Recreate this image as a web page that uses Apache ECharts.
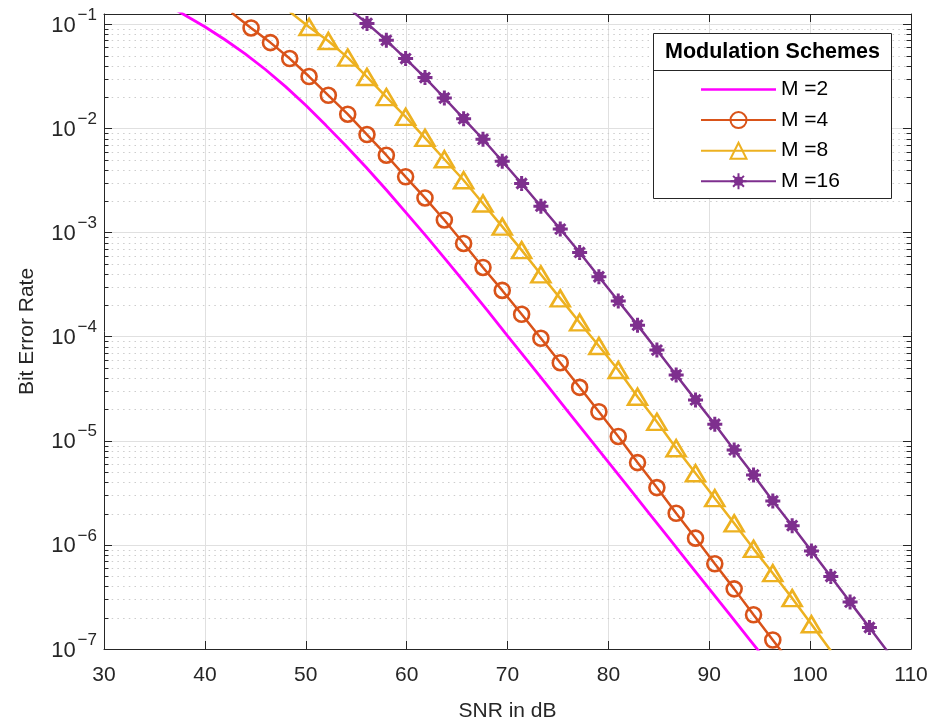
<!DOCTYPE html>
<html><head><meta charset="utf-8">
<script src="https://cdn.jsdelivr.net/npm/echarts@6/dist/echarts.min.js"></script>
<style>html,body{margin:0;padding:0;background:#fff}#c{width:933px;height:724px}</style>
</head><body><div id="c"></div>
<script>
// ---- data ----
const xTicks = [30, 40, 50, 60, 70, 80, 90, 100, 110];
const yDecades = [-7, -6, -5, -4, -3, -2, -1];
const seriesNames = ['M =2', 'M =4', 'M =8', 'M =16'];

const snrM2 = [36, 38, 40, 42, 44, 46, 48, 50, 52, 54, 56, 58, 60, 62, 64, 66, 68, 70, 72, 74, 76, 78, 80, 82, 84, 86, 88, 90, 92, 94, 96];
const berM2 = [1.58e-1, 1.23e-1, 9.48e-2, 7.11e-2, 5.20e-2, 3.68e-2, 2.52e-2, 1.67e-2, 1.07e-2, 6.79e-3, 4.21e-3, 2.56e-3, 1.53e-3, 9.08e-4, 5.32e-4, 3.09e-4, 1.79e-4, 1.02e-4, 5.85e-5, 3.34e-5, 1.91e-5, 1.09e-5, 6.22e-6, 3.56e-6, 2.03e-6, 1.16e-6, 6.62e-7, 3.78e-7, 2.16e-7, 1.23e-7, 7.05e-8];

const snrM4 = [42.66, 44.58, 46.50, 48.41, 50.33, 52.24, 54.16, 56.07, 57.99, 59.90, 61.82, 63.74, 65.65, 67.57, 69.48, 71.40, 73.31, 75.23, 77.15, 79.06, 80.98, 82.89, 84.81, 86.72, 88.64, 90.55, 92.47, 94.39, 96.30, 98.22];
const berM4 = [1.29e-1, 9.23e-2, 6.67e-2, 4.69e-2, 3.15e-2, 2.08e-2, 1.37e-2, 8.73e-3, 5.53e-3, 3.43e-3, 2.15e-3, 1.32e-3, 7.85e-4, 4.62e-4, 2.78e-4, 1.64e-4, 9.64e-5, 5.62e-5, 3.26e-5, 1.90e-5, 1.10e-5, 6.17e-6, 3.55e-6, 2.01e-6, 1.16e-6, 6.58e-7, 3.78e-7, 2.13e-7, 1.22e-7, 6.97e-8];

const snrM8 = [48.41, 50.33, 52.24, 54.16, 56.07, 57.99, 59.90, 61.82, 63.74, 65.65, 67.57, 69.48, 71.40, 73.31, 75.23, 77.15, 79.06, 80.98, 82.89, 84.81, 86.72, 88.64, 90.55, 92.47, 94.39, 96.30, 98.22, 100.13, 102.05];
const berM8 = [1.32e-1, 9.42e-2, 6.92e-2, 4.79e-2, 3.12e-2, 2.00e-2, 1.29e-2, 8.11e-3, 5.06e-3, 3.18e-3, 1.90e-3, 1.14e-3, 6.78e-4, 3.96e-4, 2.33e-4, 1.37e-4, 8.13e-5, 4.79e-5, 2.65e-5, 1.52e-5, 8.47e-6, 4.88e-6, 2.81e-6, 1.61e-6, 9.16e-7, 5.35e-7, 3.08e-7, 1.73e-7, 9.6e-8];

const snrM16 = [54.16, 56.07, 57.99, 59.90, 61.82, 63.74, 65.65, 67.57, 69.48, 71.40, 73.31, 75.23, 77.15, 79.06, 80.98, 82.89, 84.81, 86.72, 88.64, 90.55, 92.47, 94.39, 96.30, 98.22, 100.13, 102.05, 103.96, 105.88, 107.80];
const berM16 = [1.45e-1, 1.02e-1, 7.02e-2, 4.69e-2, 3.08e-2, 1.96e-2, 1.24e-2, 7.87e-3, 4.84e-3, 2.96e-3, 1.79e-3, 1.08e-3, 6.44e-4, 3.76e-4, 2.20e-4, 1.29e-4, 7.43e-5, 4.28e-5, 2.47e-5, 1.44e-5, 8.17e-6, 4.70e-6, 2.64e-6, 1.53e-6, 8.75e-7, 4.97e-7, 2.82e-7, 1.61e-7, 9.12e-8];

const minorMultipliers = [2, 3, 4, 5, 6, 7, 8, 9];

// ---- styling ----
const FONT = 'Liberation Sans, Arial, Helvetica, sans-serif';
const AX = '#262626';
const GRID = '#e0e0e0';
const C2 = '#FF00FF', C4 = '#D95319', C8 = '#EDB120', C16 = '#7E2F8E';
const X_MIN = 30, X_MAX = 110, Y_MIN = 1e-7, Y_MAX = 0.1256;

const pairs = (xs, ys) => xs.map((x, i) => [x, ys[i]]);

const minorVals = [];
yDecades.forEach(e => minorMultipliers.forEach(k => {
  const v = k * Math.pow(10, e);
  if (v > Y_MIN && v < Y_MAX) minorVals.push(v);
}));

function yLabel(v) {
  const e = Math.log10(v);
  const n = Math.round(e);
  if (Math.abs(e - n) > 1e-6 || yDecades.indexOf(n) < 0) return '';
  return '{b|10}{s|' + (n < 0 ? '\u2212' : '') + Math.abs(n) + '}';
}

const STAR = 'path://M5,0L5,10M0,5L10,5M1.6,1.6L8.4,8.4M8.4,1.6L1.6,8.4M7.3,5A2.3,2.3 0 1,1 2.7,5A2.3,2.3 0 1,1 7.3,5Z';

const chart = echarts.init(document.getElementById('c'), null, {renderer: 'canvas'});
const option = {
  animation: false,
  backgroundColor: '#fff',
  grid: {left: 104, right: 22, top: 14, bottom: 75, containLabel: false, outerBoundsMode: 'none'},
  xAxis: [{
    type: 'value', min: X_MIN, max: X_MAX, interval: 10, position: 'bottom',
    axisLine: {show: true, onZero: false, lineStyle: {color: AX, width: 1}},
    axisTick: {show: true, inside: true, length: 8, lineStyle: {color: AX, width: 1}},
    axisLabel: {show: true, fontSize: 21, color: AX, fontFamily: FONT, margin: 16,
      formatter: v => (xTicks.indexOf(v) >= 0 ? String(v) : '')},
    splitLine: {show: true, lineStyle: {color: GRID, width: 1}},
    name: 'SNR in dB', nameLocation: 'middle', nameGap: 52,
    nameTextStyle: {fontSize: 21, color: AX, fontFamily: FONT}
  }, {
    type: 'value', min: X_MIN, max: X_MAX, interval: 10, position: 'top',
    axisLine: {show: true, onZero: false, lineStyle: {color: AX, width: 1}},
    axisTick: {show: true, inside: true, length: 8, lineStyle: {color: AX, width: 1}},
    axisLabel: {show: false}, splitLine: {show: false}
  }],
  yAxis: [{
    type: 'log', logBase: 10, min: Y_MIN, max: Y_MAX, position: 'left',
    axisLine: {show: true, onZero: false, lineStyle: {color: AX, width: 1}},
    axisTick: {show: true, inside: true, length: 8, lineStyle: {color: AX, width: 1}},
    axisLabel: {show: true, margin: 7, color: AX, formatter: yLabel, padding: [0, 0, 5, 0],
      rich: {
        b: {fontSize: 22, fontFamily: FONT, color: AX, lineHeight: 30, verticalAlign: 'bottom'},
        s: {fontSize: 17, fontFamily: FONT, color: AX, lineHeight: 17, verticalAlign: 'top', padding: [0, 0, 0, 2]}
      }},
    splitLine: {show: true, lineStyle: {color: GRID, width: 1}},
    name: 'Bit Error Rate', nameLocation: 'middle', nameGap: 66, nameRotate: 90,
    nameTextStyle: {fontSize: 21, color: AX, fontFamily: FONT}
  }, {
    type: 'log', logBase: 10, min: Y_MIN, max: Y_MAX, position: 'right',
    axisLine: {show: true, onZero: false, lineStyle: {color: AX, width: 1}},
    axisTick: {show: true, inside: true, length: 8, lineStyle: {color: AX, width: 1}},
    axisLabel: {show: false}, splitLine: {show: false}
  }],
  legend: {
    data: [
      {name: 'M =2', icon: 'path://M0,0H100V3.6H0Z'},
      {name: 'M =4'}, {name: 'M =8'}, {name: 'M =16'}
    ],
    orient: 'vertical', left: 700, top: 79, padding: 0,
    itemWidth: 75, itemHeight: 20, itemGap: 9.6, selectedMode: false,
    textStyle: {fontSize: 21, color: '#000', fontFamily: FONT, lineHeight: 20, padding: [0, 0, 0, 0]}
  },
  graphic: [
    {type: 'rect', z: 3, shape: {x: 653.5, y: 33.5, width: 238, height: 165},
      style: {fill: '#fff', stroke: AX, lineWidth: 1}},
    {type: 'line', z: 3, shape: {x1: 653.5, y1: 70.5, x2: 891.5, y2: 70.5},
      style: {stroke: AX, lineWidth: 1}},
    {type: 'text', z: 3, x: 772.5, y: 52.5,
      style: {text: 'Modulation Schemes', font: 'bold 21.5px ' + FONT, fill: '#000', align: 'center', verticalAlign: 'middle'}}
  ],
  series: [
    {
      type: 'custom', name: 'minor', silent: true, z: 1, xAxisIndex: 0, yAxisIndex: 0,
      data: minorVals.map(v => [X_MIN, v]),
      encode: {x: 0, y: 1},
      renderItem: function (params, api) {
        const v = api.value(1);
        const p0 = api.coord([X_MIN, v]);
        const p1 = api.coord([X_MAX, v]);
        const y = Math.round(p0[1]) + 0.5;
        return {type: 'group', children: [
          {type: 'line', shape: {x1: p0[0] + 2, y1: y, x2: p1[0] - 1, y2: y},
            style: {stroke: '#cdcdcd', lineWidth: 1, lineDash: [1.5, 4.2]}},
          {type: 'line', shape: {x1: p0[0], y1: y, x2: p0[0] + 4.5, y2: y},
            style: {stroke: AX, lineWidth: 1}},
          {type: 'line', shape: {x1: p1[0] - 4.5, y1: y, x2: p1[0], y2: y},
            style: {stroke: AX, lineWidth: 1}}
        ]};
      }
    },
    {
      name: seriesNames[0], type: 'line', data: pairs(snrM2, berM2), clip: true,
      showSymbol: false, symbol: 'none', smooth: false, z: 2,
      lineStyle: {color: C2, width: 2.8}, itemStyle: {color: C2}
    },
    {
      name: seriesNames[1], type: 'line', data: pairs(snrM4, berM4), clip: true, z: 2,
      symbol: 'circle', symbolSize: 15,
      lineStyle: {color: C4, width: 2.5},
      itemStyle: {color: 'rgba(255,255,255,0)', borderColor: C4, borderWidth: 2.6}
    },
    {
      name: seriesNames[2], type: 'line', data: pairs(snrM8, berM8), clip: true, z: 2,
      symbol: 'triangle', symbolSize: [19, 16],
      lineStyle: {color: C8, width: 2.5},
      itemStyle: {color: 'rgba(255,255,255,0)', borderColor: C8, borderWidth: 2.6}
    },
    {
      name: seriesNames[3], type: 'line', data: pairs(snrM16, berM16), clip: true, z: 2,
      symbol: STAR, symbolSize: 15,
      lineStyle: {color: C16, width: 2.5},
      itemStyle: {color: C16, borderColor: C16, borderWidth: 3}
    }
  ]
};
chart.setOption(option);
</script>
</body></html>
